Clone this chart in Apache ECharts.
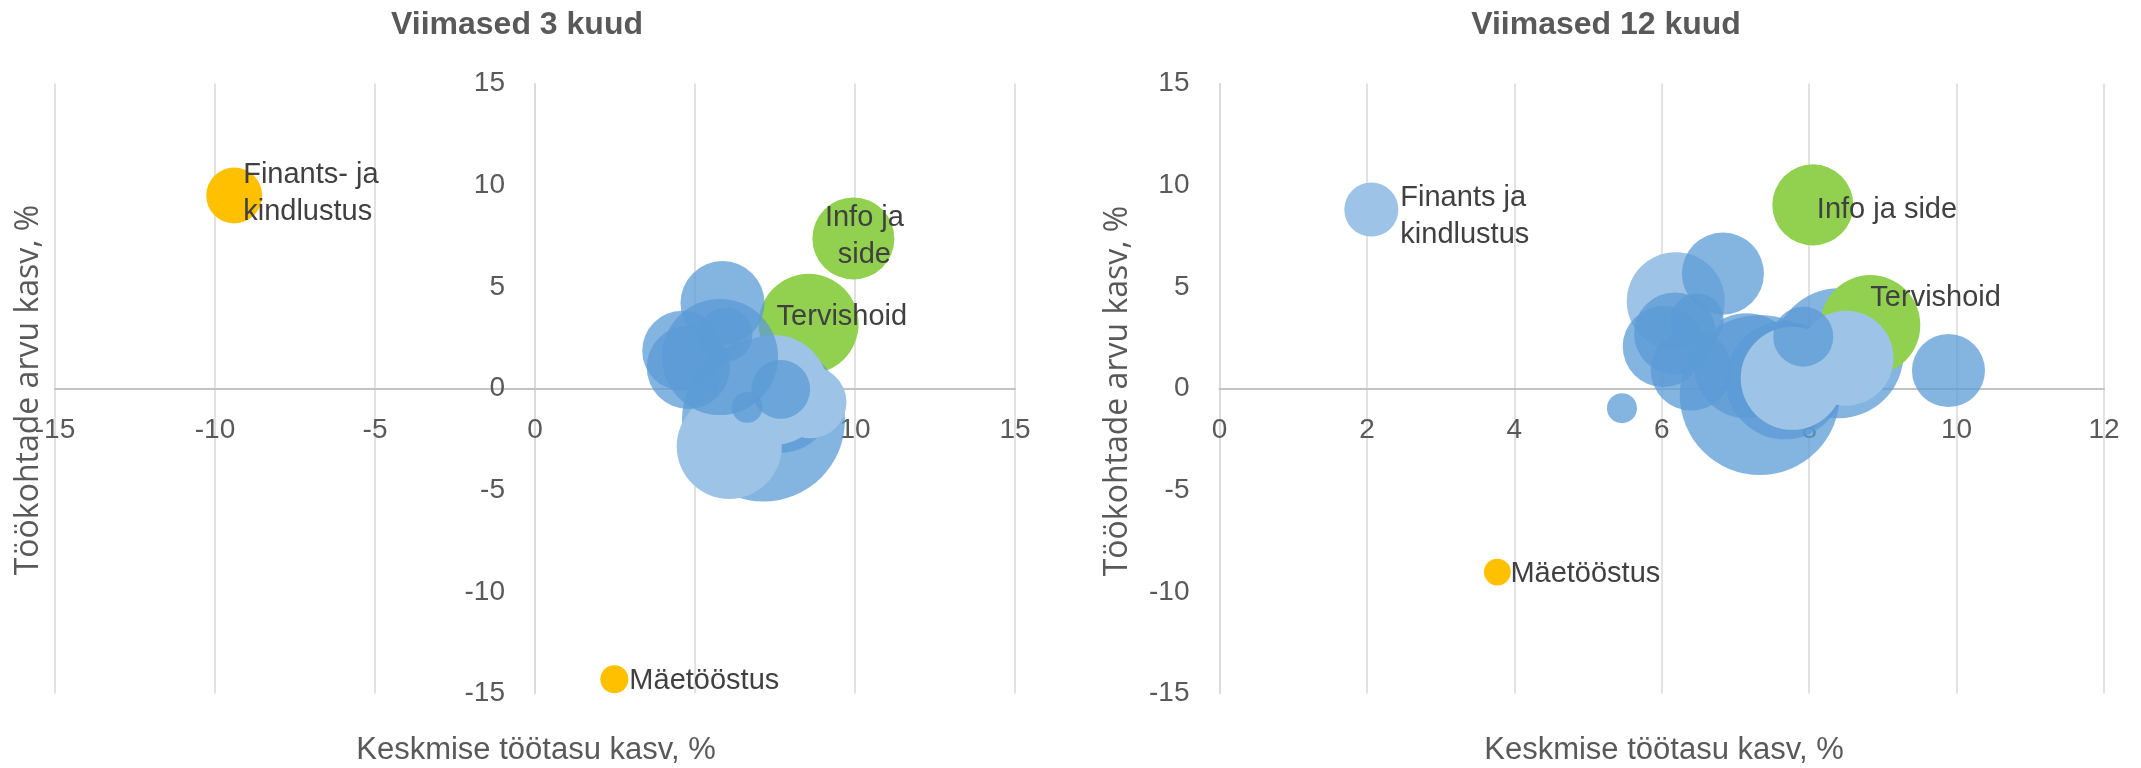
<!DOCTYPE html>
<html lang="et">
<head>
    <meta charset="UTF-8"/>
    <title>Töötasu ja töökohtade kasv</title>
    <script src="https://cdn.jsdelivr.net/npm/echarts@6/dist/echarts.min.js"></script>
</head>
<body style="margin:0">
<div id="main" style="width: 2141px;height:768px;"></div>
<script type="text/javascript">
    // Viimased 3 kuud (joonistamise järjekorras)
    var names3 = ['Tervishoid', 'Info ja\nside', '', '', '', '', '', '', '', '', '', '', '', '', '', 'Finants- ja\nkindlustus', 'Mäetööstus'];
    var wage3 = [8.55, 9.95, 7.14, 7.66, 6.07, 7.45, 8.61, 7.01, 5.78, 4.60, 4.79, 5.86, 5.95, 7.68, 6.63, -9.40, 2.48];
    var jobs3 = [3.18, 7.38, -1.55, -0.55, -2.85, -0.07, -0.68, -0.90, 1.55, 1.86, 1.04, 4.20, 2.65, -0.04, -0.93, 9.49, -14.30];
    var size3 = [44.4, 29.9, 118, 50, 49, 53.8, 23, 4.9, 60, 28.4, 30.8, 31.4, 13, 15.3, 4.2, 13.9, 3.5];
    var group3 = ['esile', 'esile', 'muu', 'muu', 'hele', 'hele', 'hele', 'hele', 'muu', 'muu', 'muu', 'muu', 'muu', 'muu', 'muu', 'langus', 'langus'];

    // Viimased 12 kuud
    var names12 = ['', '', '', '', 'Tervishoid', '', '', '', '', '', '', '', '', '', '', '', 'Info ja side', 'Finants ja\nkindlustus', 'Mäetööstus'];
    var wage12 = [7.33, 7.15, 7.67, 8.40, 8.83, 6.19, 7.77, 8.50, 7.92, 6.83, 6.18, 6.48, 6.02, 6.40, 9.89, 5.46, 8.05, 2.06, 3.77];
    var jobs12 = [-0.32, 1.12, 0.40, 1.73, 3.12, 4.29, 0.50, 1.49, 2.55, 5.65, 2.71, 3.37, 2.06, 0.91, 0.88, -0.97, 9.03, 8.80, -9.03];
    var size12 = [113.8, 49, 61.9, 75.1, 44.4, 42.7, 47.2, 40.1, 16, 29.9, 29.9, 12.5, 29.2, 29.2, 23.7, 4, 29.2, 13, 3.2];
    var group12 = ['muu', 'muu', 'muu', 'muu', 'esile', 'hele', 'hele', 'hele', 'muu', 'muu', 'muu', 'muu', 'muu', 'muu', 'muu', 'muu', 'esile', 'hele', 'langus'];

    var xTicks3 = {min: -15, max: 15, interval: 5};
    var xTicks12 = {min: 0, max: 12, interval: 2};
    var yTicks = {min: -15, max: 15, interval: 5};

    var groupColor = {
        muu: 'rgba(91,155,213,0.75)',
        hele: '#9dc3e6',
        esile: '#92d050',
        langus: '#ffc000'
    };
    var labelPlace = {
        'Tervishoid': {align: 'left', offset: [-32, -7]},
        'Info ja\nside': {align: 'center', offset: [11, -2]},
        'Finants- ja\nkindlustus': {align: 'left', offset: [9, -2]},
        'Mäetööstus': {align: 'left', offset: [15, 2]}
    };
    var labelPlace12 = {
        'Tervishoid': {align: 'left', offset: [0, -27]},
        'Info ja side': {align: 'left', offset: [4, 5]},
        'Finants ja\nkindlustus': {align: 'left', offset: [29, 7]},
        'Mäetööstus': {align: 'left', offset: [13, 2]}
    };

    var FONT = '"Liberation Sans", Arial, sans-serif';
    var BUBBLE = 15;
    var GRID_TOP = 83.5, GRID_H = 610;

    function buildData(names, xs, ys, sizes, groups, places) {
        var out = [];
        for (var i = 0; i < xs.length; i++) {
            var p = places[names[i]];
            out.push({
                name: names[i],
                value: [xs[i], ys[i], sizes[i]],
                itemStyle: {color: groupColor[groups[i]], opacity: 1},
                label: p ? {
                    show: true, position: 'inside', align: p.align, offset: p.offset,
                    formatter: '{b}', color: '#404040', fontSize: 29, lineHeight: 37, fontFamily: FONT
                } : {show: false}
            });
        }
        return out;
    }

    // telg ristub teise teljega nullis: nihutame telje nulli kohale
    function xAxis(idx, t) {
        var zeroFromBottom = GRID_H * (0 - yTicks.min) / (yTicks.max - yTicks.min);
        return {
            type: 'value', gridIndex: idx, min: t.min, max: t.max, interval: t.interval,
            position: 'bottom', offset: -zeroFromBottom,
            axisLine: {onZero: false, lineStyle: {color: '#c3c3c3', width: 2}},
            axisTick: {show: false},
            axisLabel: {color: '#595959', fontSize: 28, fontFamily: FONT, margin: 28},
            splitLine: {show: true, lineStyle: {color: '#d9d9d9', width: 1.5}}
        };
    }

    function yAxis(idx, t, width) {
        var zeroFromLeft = width * (0 - t.min) / (t.max - t.min);
        return {
            type: 'value', gridIndex: idx, min: yTicks.min, max: yTicks.max, interval: yTicks.interval,
            position: 'left', offset: -zeroFromLeft,
            axisLine: {show: true, onZero: false, lineStyle: {color: '#d9d9d9', width: 1.5}},
            axisTick: {show: false},
            axisLabel: {color: '#595959', fontSize: 28, fontFamily: FONT, margin: 30},
            splitLine: {show: false}
        };
    }

    function textEl(str, x, y, font, rot) {
        return {
            type: 'text', x: x, y: y, rotation: rot || 0,
            style: {text: str, font: font, fill: '#595959', textAlign: 'center', textVerticalAlign: 'middle'}
        };
    }

    var myChart = echarts.init(document.getElementById('main'));

    var option = {
        animation: false,
        backgroundColor: '#ffffff',
        grid: [
            {left: 55, top: GRID_TOP, width: 960, height: GRID_H, outerBoundsMode: 'none'},
            {left: 1219.5, top: GRID_TOP, width: 884.5, height: GRID_H, outerBoundsMode: 'none'}
        ],
        xAxis: [xAxis(0, xTicks3), xAxis(1, xTicks12)],
        yAxis: [yAxis(0, xTicks3, 960), yAxis(1, xTicks12, 884.5)],
        graphic: [
            textEl('Viimased 3 kuud', 517, 25, 'bold 32px ' + FONT),
            textEl('Viimased 12 kuud', 1606, 25, 'bold 32px ' + FONT),
            textEl('Keskmise töötasu kasv, %', 536, 750, '31px ' + FONT),
            textEl('Keskmise töötasu kasv, %', 1664, 750, '31px ' + FONT),
            textEl('Töökohtade arvu kasv, %', 28.5, 390, '32px "Open Sans", sans-serif', Math.PI / 2),
            textEl('Töökohtade arvu kasv, %', 1118, 391, '32px "Open Sans", sans-serif', Math.PI / 2)
        ],
        series: [
            {
                type: 'scatter', xAxisIndex: 0, yAxisIndex: 0, clip: false,
                symbolSize: function (v) { return BUBBLE * Math.sqrt(v[2]); },
                emphasis: {disabled: true},
                data: buildData(names3, wage3, jobs3, size3, group3, labelPlace)
            },
            {
                type: 'scatter', xAxisIndex: 1, yAxisIndex: 1, clip: false,
                symbolSize: function (v) { return BUBBLE * Math.sqrt(v[2]); },
                emphasis: {disabled: true},
                data: buildData(names12, wage12, jobs12, size12, group12, labelPlace12)
            }
        ]
    };

    myChart.setOption(option);
</script>
</body>
</html>
